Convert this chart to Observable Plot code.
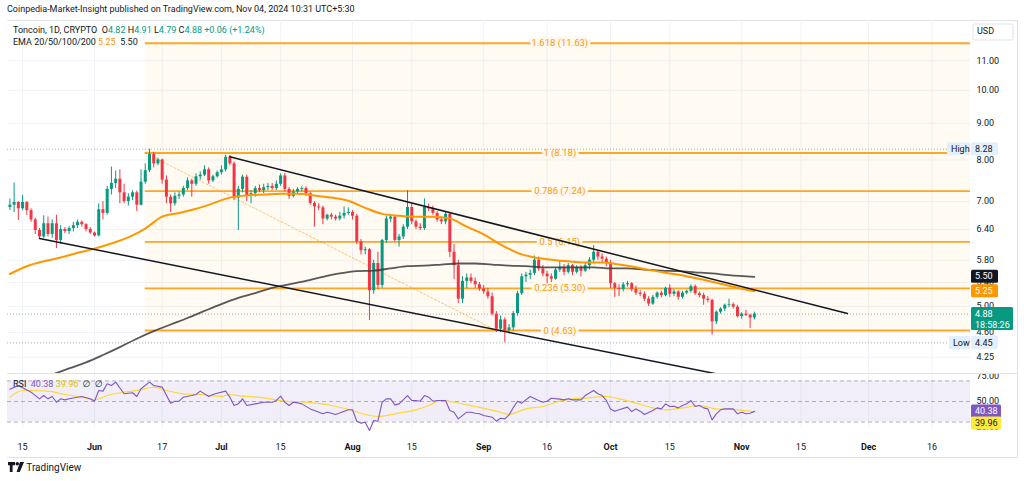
<!DOCTYPE html>
<html><head><meta charset="utf-8">
<script src="https://cdn.jsdelivr.net/npm/d3@7"></script>
<script src="https://cdn.jsdelivr.net/npm/@observablehq/plot@0.6"></script>
<style>
body{margin:0;background:#fff;font-family:Roboto,"DejaVu Sans",sans-serif;color:#131722;}
#wrap{position:relative;width:1024px;height:481px;overflow:hidden;background:#fff;}
.abs{position:absolute;white-space:nowrap;font-size:9px;line-height:11px;}
.g{color:#089981}.o{color:#ff9800}.p{color:#7e57c2}.y{color:#e0c200}
svg{overflow:hidden}
</style></head><body><div id="wrap"></div>
<script>
// ---------------- DATA ----------------
// daily candles [open, high, low, close], May 12 .. Nov 4 2024
const firstCandle = "2024-05-12";
const mayOHLC = [
 [6.87,7.06,6.80,6.92],[6.92,7.43,6.76,6.98],[6.98,7.00,6.59,6.84],[6.84,7.14,6.80,6.98],[6.98,7.00,6.70,6.80],
 [6.80,6.84,6.55,6.60],[6.60,6.64,6.30,6.38],[6.38,6.42,6.20,6.25],[6.25,6.69,6.22,6.52],[6.52,6.66,6.25,6.30],
 [6.30,6.60,6.22,6.52],[6.52,6.70,6.02,6.18],[6.18,6.48,6.10,6.40],[6.40,6.44,6.32,6.36],[6.36,6.46,6.30,6.42],
 [6.42,6.55,6.35,6.48],[6.48,6.60,6.42,6.55],[6.55,6.58,6.45,6.50],[6.50,6.52,6.35,6.40],[6.40,6.44,6.30,6.33]];
const junOHLC = [
 [6.33,6.35,6.25,6.27],[6.27,6.95,6.25,6.82],[6.82,7.00,6.60,6.74],[6.74,7.35,6.70,7.28],[7.28,7.82,7.15,7.42],
 [7.42,7.72,7.30,7.52],[7.52,7.75,6.95,7.20],[7.20,7.40,6.95,7.00],[7.00,7.18,6.90,7.10],[7.10,7.25,7.02,7.20],
 [7.20,7.24,6.78,6.92],[6.92,7.75,6.90,7.45],[7.45,7.90,7.40,7.73],[7.73,8.28,7.68,8.14],[8.14,8.20,7.80,7.90],
 [7.90,8.05,7.85,8.00],[8.00,8.02,7.40,7.50],[7.50,7.60,6.95,7.10],[7.10,7.15,6.76,6.95],[6.95,7.20,6.90,7.12],
 [7.12,7.22,7.05,7.15],[7.15,7.35,7.10,7.30],[7.30,7.55,7.25,7.48],[7.48,7.52,7.10,7.40],[7.40,7.65,7.35,7.58],
 [7.58,7.70,7.50,7.62],[7.62,7.85,7.58,7.75],[7.75,7.80,7.40,7.48],[7.48,7.62,7.44,7.58],[7.58,7.72,7.55,7.68]];
const julOHLC = [
 [7.68,7.85,7.62,7.75],[7.75,8.12,7.70,8.07],[8.07,8.12,7.85,7.90],[7.90,7.95,7.02,7.08],[7.08,7.35,6.38,7.28],
 [7.28,7.62,7.20,7.57],[7.57,7.62,7.00,7.12],[7.12,7.25,6.95,7.18],[7.18,7.35,7.10,7.30],[7.30,7.38,7.20,7.25],
 [7.25,7.40,7.18,7.32],[7.32,7.42,7.25,7.35],[7.35,7.42,7.25,7.30],[7.30,7.48,7.25,7.40],[7.40,7.65,7.35,7.60],
 [7.60,7.66,7.22,7.28],[7.28,7.32,7.05,7.12],[7.12,7.28,7.08,7.22],[7.22,7.32,7.18,7.28],[7.28,7.34,7.22,7.30],
 [7.30,7.34,7.12,7.18],[7.18,7.22,6.92,6.96],[6.96,7.00,6.45,6.88],[6.88,6.95,6.80,6.86],[6.86,6.90,6.50,6.62],
 [6.62,6.72,6.58,6.70],[6.70,6.74,6.60,6.66],[6.66,6.70,6.58,6.62],[6.62,6.76,6.58,6.68],[6.68,6.88,6.62,6.74],
 [6.74,6.86,6.70,6.76]];
const augOHLC = [
 [6.76,6.80,6.60,6.68],[6.68,6.72,6.10,6.15],[6.15,6.20,5.90,5.98],[5.98,6.05,5.90,6.00],[6.00,6.02,4.78,5.26],
 [5.26,5.80,5.20,5.74],[5.74,5.95,5.28,5.35],[5.35,6.20,5.30,6.18],[6.18,6.68,6.12,6.62],[6.62,6.72,6.55,6.66],
 [6.66,6.70,6.15,6.18],[6.18,6.30,6.05,6.25],[6.25,6.50,6.20,6.45],[6.45,7.25,6.40,6.87],[6.87,6.95,6.50,6.56],
 [6.56,6.60,6.40,6.45],[6.45,6.52,6.38,6.42],[6.42,7.06,6.38,6.87],[6.87,6.95,6.78,6.84],[6.84,6.90,6.70,6.74],
 [6.74,6.78,6.55,6.60],[6.60,6.66,6.50,6.56],[6.56,6.78,6.50,6.72],[6.72,6.75,5.85,5.95],[5.95,6.10,5.45,5.70],
 [5.70,5.80,5.05,5.12],[5.12,5.50,5.05,5.42],[5.42,5.55,5.30,5.48],[5.48,5.55,5.38,5.42],[5.42,5.48,5.30,5.36],
 [5.36,5.40,5.25,5.29]];
const sepOHLC = [
 [5.29,5.35,5.20,5.24],[5.24,5.30,5.12,5.16],[5.16,5.22,4.85,4.88],[4.88,4.92,4.60,4.65],[4.65,4.85,4.60,4.79],
 [4.79,4.82,4.45,4.63],[4.63,4.72,4.58,4.67],[4.67,4.92,4.62,4.89],[4.89,5.25,4.85,5.21],[5.21,5.55,5.18,5.50],
 [5.50,5.58,5.40,5.53],[5.53,5.62,5.45,5.56],[5.56,5.88,5.52,5.80],[5.80,5.86,5.60,5.64],[5.64,5.70,5.50,5.55],
 [5.55,5.60,5.38,5.50],[5.50,5.55,5.40,5.46],[5.46,5.66,5.44,5.62],[5.62,5.78,5.58,5.67],[5.67,5.72,5.52,5.58],
 [5.58,5.74,5.55,5.70],[5.70,5.72,5.52,5.58],[5.58,5.70,5.55,5.67],[5.67,5.70,5.50,5.60],[5.60,5.74,5.58,5.70],
 [5.70,5.85,5.62,5.80],[5.80,6.08,5.76,5.95],[5.95,5.98,5.80,5.86],[5.86,5.92,5.76,5.82],[5.82,5.86,5.68,5.75]];
const octOHLC = [
 [5.75,5.80,5.30,5.38],[5.38,5.40,5.15,5.30],[5.30,5.36,5.16,5.28],[5.28,5.40,5.24,5.36],[5.36,5.42,5.32,5.38],
 [5.38,5.40,5.24,5.28],[5.28,5.34,5.18,5.22],[5.22,5.26,5.16,5.20],[5.20,5.24,5.08,5.12],[5.12,5.16,5.00,5.04],
 [5.04,5.18,5.02,5.15],[5.15,5.24,5.12,5.22],[5.22,5.25,5.14,5.18],[5.18,5.32,5.16,5.30],[5.30,5.36,5.15,5.20],
 [5.20,5.28,5.16,5.24],[5.24,5.26,5.10,5.15],[5.15,5.25,5.12,5.22],[5.22,5.27,5.19,5.25],[5.25,5.36,5.22,5.33],
 [5.33,5.36,5.18,5.21],[5.21,5.24,5.14,5.18],[5.18,5.22,5.02,5.12],[5.12,5.16,5.06,5.10],[5.10,5.12,4.56,4.76],
 [4.76,4.93,4.72,4.91],[4.91,4.98,4.88,4.96],[4.96,5.04,4.92,5.02],[5.02,5.12,4.98,5.03],[5.03,5.06,4.96,4.99],
 [4.99,5.02,4.82,4.84]];
const novOHLC = [[4.84,4.90,4.80,4.88],[4.88,4.94,4.84,4.86],[4.86,4.88,4.66,4.82],[4.82,4.91,4.79,4.88]];

// EMA 50 (orange) and EMA 200 (dark)
const ema50 = [
 ["2024-05-12",5.55],["2024-05-16",5.69],["2024-05-20",5.78],["2024-05-24",5.85],["2024-05-28",5.94],["2024-06-01",6.02],
 ["2024-06-05",6.12],["2024-06-09",6.24],["2024-06-13",6.42],["2024-06-17",6.67],["2024-06-21",6.75],["2024-06-25",6.84],
 ["2024-06-29",6.96],["2024-07-03",7.09],["2024-07-07",7.14],["2024-07-11",7.16],["2024-07-15",7.18],["2024-07-19",7.18],
 ["2024-07-23",7.14],["2024-07-27",7.09],["2024-07-31",7.02],["2024-08-04",6.86],["2024-08-08",6.73],["2024-08-12",6.69],
 ["2024-08-16",6.67],["2024-08-20",6.67],["2024-08-24",6.63],["2024-08-28",6.46],["2024-09-01",6.30],["2024-09-05",6.10],
 ["2024-09-09",5.94],["2024-09-13",5.85],["2024-09-17",5.81],["2024-09-21",5.78],["2024-09-25",5.76],["2024-09-29",5.76],
 ["2024-10-03",5.72],["2024-10-07",5.67],["2024-10-11",5.61],["2024-10-15",5.56],["2024-10-19",5.51],["2024-10-23",5.45],
 ["2024-10-27",5.38],["2024-10-31",5.31],["2024-11-04",5.25]];
const ema200 = [
 ["2024-05-22",4.02],["2024-05-26",4.10],["2024-05-30",4.18],["2024-06-03",4.28],["2024-06-07",4.39],["2024-06-11",4.51],
 ["2024-06-15",4.62],["2024-06-19",4.72],["2024-06-23",4.82],["2024-06-27",4.93],["2024-07-01",5.04],["2024-07-05",5.14],
 ["2024-07-09",5.22],["2024-07-13",5.31],["2024-07-17",5.37],["2024-07-21",5.43],["2024-07-25",5.50],["2024-07-29",5.56],
 ["2024-08-02",5.60],["2024-08-06",5.61],["2024-08-10",5.65],["2024-08-14",5.69],["2024-08-18",5.70],["2024-08-22",5.72],
 ["2024-08-26",5.74],["2024-08-30",5.74],["2024-09-03",5.72],["2024-09-07",5.70],["2024-09-11",5.69],["2024-09-15",5.67],
 ["2024-09-19",5.67],["2024-09-23",5.67],["2024-09-27",5.67],["2024-10-01",5.65],["2024-10-05",5.65],["2024-10-09",5.63],
 ["2024-10-13",5.61],["2024-10-17",5.60],["2024-10-21",5.58],["2024-10-25",5.56],["2024-10-29",5.53],["2024-11-04",5.50]];

// Fibonacci retracement
const fibLevels = [0, 0.236, 0.5, 0.786, 1, 1.618];
const fibPrices = [4.63, 5.30, 6.15, 7.24, 8.18, 11.63];
const fibStart = "2024-06-13";
const fibLabelDate = "2024-09-19";
const fibDiagonal = [["2024-06-13", 8.18], ["2024-09-04", 4.63]];

// trend lines (falling channel)
const upperTrend = [["2024-07-03", 8.08], ["2024-11-26", 4.89]];
const lowerTrend = [["2024-05-19", 6.22], ["2024-10-26", 4.03]];

// levels
const highPrice = 8.28, lowPrice = 4.45, lastPrice = 4.88, ema50Last = 5.25, ema200Last = 5.50;

// RSI (14) and its MA
const rsiLine = [
 ["2024-05-12",62],["2024-05-14",65.6],["2024-05-17",59.1],["2024-05-19",52.6],["2024-05-20",55.8],["2024-05-21",52.6],
 ["2024-05-22",54.9],["2024-05-23",49.3],["2024-05-24",52.6],["2024-05-25",51.6],["2024-05-26",52.6],["2024-05-28",54.2],
 ["2024-05-29",54.9],["2024-05-31",52.6],["2024-06-01",50.3],["2024-06-02",60.7],["2024-06-03",60.1],["2024-06-04",67.2],
 ["2024-06-05",65.6],["2024-06-06",68.9],["2024-06-08",57.5],["2024-06-09",58.1],["2024-06-10",58.5],["2024-06-11",54.9],
 ["2024-06-12",62.4],["2024-06-14",68.9],["2024-06-15",65.6],["2024-06-17",64.0],["2024-06-19",48.4],["2024-06-20",50.3],
 ["2024-06-21",50.3],["2024-06-22",54.2],["2024-06-24",55.8],["2024-06-25",56.8],["2024-06-26",60.1],["2024-06-28",54.9],
 ["2024-06-29",56.8],["2024-06-30",58.1],["2024-07-02",60.1],["2024-07-03",54.2],["2024-07-04",46.1],["2024-07-05",47.7],
 ["2024-07-06",52.6],["2024-07-07",46.1],["2024-07-09",47.7],["2024-07-11",49.3],["2024-07-13",49.3],["2024-07-14",51.0],
 ["2024-07-15",55.2],["2024-07-16",49.3],["2024-07-17",46.1],["2024-07-18",49.3],["2024-07-19",48.7],["2024-07-20",47.7],
 ["2024-07-22",42.8],["2024-07-23",41.2],["2024-07-25",38.0],["2024-07-26",39.5],["2024-07-27",38.6],["2024-07-28",37.3],
 ["2024-07-31",41.9],["2024-08-01",41.9],["2024-08-02",30.8],["2024-08-03",28.9],["2024-08-04",29.8],["2024-08-05",21.7],
 ["2024-08-06",31.5],["2024-08-07",30.8],["2024-08-08",49.3],["2024-08-09",52.6],["2024-08-10",52.6],["2024-08-11",46.7],
 ["2024-08-12",47.7],["2024-08-14",55.8],["2024-08-15",51.0],["2024-08-16",51.0],["2024-08-17",50.3],["2024-08-18",55.8],
 ["2024-08-19",54.2],["2024-08-20",50.3],["2024-08-21",51.0],["2024-08-23",51.0],["2024-08-24",41.2],["2024-08-25",39.6],
 ["2024-08-26",33.1],["2024-08-28",39.6],["2024-08-29",39.6],["2024-08-30",38.6],["2024-08-31",38.0],["2024-09-01",36.3],
 ["2024-09-03",34.7],["2024-09-04",30.8],["2024-09-05",33.7],["2024-09-06",33.1],["2024-09-07",37.0],["2024-09-08",44.0],
 ["2024-09-09",50.3],["2024-09-10",48.4],["2024-09-12",54.9],["2024-09-14",51.0],["2024-09-15",49.3],["2024-09-16",50.3],
 ["2024-09-17",53.2],["2024-09-19",52.3],["2024-09-20",51.6],["2024-09-21",52.6],["2024-09-22",51.6],["2024-09-24",51.6],
 ["2024-09-25",55.8],["2024-09-27",60.7],["2024-09-28",57.5],["2024-09-29",55.8],["2024-09-30",51.0],["2024-10-01",42.8],
 ["2024-10-02",40.6],["2024-10-03",41.9],["2024-10-05",44.5],["2024-10-06",40.2],["2024-10-07",42.8],["2024-10-08",40.6],
 ["2024-10-09",37.3],["2024-10-11",41.2],["2024-10-12",43.8],["2024-10-13",42.8],["2024-10-14",47.7],["2024-10-15",45.1],
 ["2024-10-16",45.4],["2024-10-17",43.8],["2024-10-18",46.1],["2024-10-19",47.7],["2024-10-20",51.0],["2024-10-21",45.1],
 ["2024-10-22",46.1],["2024-10-23",43.8],["2024-10-24",42.8],["2024-10-25",32.1],["2024-10-26",38.0],["2024-10-27",41.9],
 ["2024-10-28",42.8],["2024-10-30",42.8],["2024-10-31",38.0],["2024-11-01",39.6],["2024-11-02",38.0],["2024-11-03",38.6],
 ["2024-11-04",40.38]];
const rsiMA = [
 ["2024-05-12",54.2],["2024-05-15",60.7],["2024-05-17",60.7],["2024-05-21",60.1],["2024-05-25",56.8],["2024-05-29",54.2],
 ["2024-06-01",51.6],["2024-06-04",55.8],["2024-06-08",59.1],["2024-06-12",61.4],["2024-06-15",64.0],["2024-06-18",60.7],
 ["2024-06-22",57.5],["2024-06-26",56.8],["2024-07-01",54.9],["2024-07-03",56.8],["2024-07-05",55.8],["2024-07-11",53.6],
 ["2024-07-16",50.3],["2024-07-21",49.3],["2024-07-27",46.1],["2024-08-01",41.2],["2024-08-04",37.3],["2024-08-07",35.4],
 ["2024-08-11",38.0],["2024-08-16",41.9],["2024-08-19",46.1],["2024-08-22",51.0],["2024-08-25",49.3],["2024-08-30",45.1],
 ["2024-09-04",40.6],["2024-09-07",37.5],["2024-09-11",42.8],["2024-09-15",45.1],["2024-09-19",50.3],["2024-09-22",52.6],
 ["2024-09-26",53.6],["2024-09-30",54.9],["2024-10-03",52.6],["2024-10-07",48.4],["2024-10-11",43.8],["2024-10-14",41.9],
 ["2024-10-18",43.8],["2024-10-22",46.1],["2024-10-26",42.8],["2024-10-31",41.9],["2024-11-04",39.96]];
const rsiLast = 40.38, rsiMALast = 39.96;

// axes
const priceTicks = [4.25, 4.6, 5, 5.4, 5.8, 6.4, 7, 8, 9, 10, 11];
const rsiTicks = [25, 50, 75];
const rsiBands = [30, 50, 70];
const monthTicks = ["2024-06-01","2024-07-01","2024-08-01","2024-09-01","2024-10-01","2024-11-01","2024-12-01"];
const dayTicks = ["2024-05-15","2024-06-17","2024-07-15","2024-08-15","2024-09-16","2024-10-15","2024-11-15","2024-12-16"];
const xStart = "2024-05-11T10:24Z", xEnd = "2024-12-25T02:10Z";

// ---------------- BUILD ----------------
const D = s => new Date(s);
const base = D(firstCandle);
const allOHLC = [...mayOHLC, ...junOHLC, ...julOHLC, ...augOHLC, ...sepOHLC, ...octOHLC, ...novOHLC];
const candles = allOHLC.map((r, i) => ({date: new Date(Date.UTC(2024, base.getUTCMonth(), base.getUTCDate() + i)), open: r[0], high: r[1], low: r[2], close: r[3]}));
const pts = a => a.map(([d, v]) => ({date: D(d), v}));
const fibs = fibLevels.map((l, i) => ({level: l, price: fibPrices[i]}));
const xDomain = [D(xStart), D(xEnd)];
const allTicks = [...monthTicks, ...dayTicks].map(D);
const UP = "#089981", DOWN = "#f23645", ORANGE = "#ff9800", GRID = "#f0f3fa";
const col = d => d.close >= d.open ? UP : DOWN;
const W = 1024, mL = 7, mR = 54;
const FONT = "Roboto, 'DejaVu Sans', sans-serif";

const price = Plot.plot({
  width: W, height: 354, marginTop: 2, marginBottom: 1, marginLeft: mL, marginRight: mR,
  style: {background: "transparent", fontFamily: FONT, fontSize: "9px", color: "#131722"},
  x: {type: "utc", domain: xDomain, axis: null},
  y: {type: "log", domain: [4.034, 12.43], axis: null},
  marks: [
    Plot.ruleX(allTicks, {stroke: GRID}),
    Plot.ruleY(priceTicks, {stroke: GRID}),
    Plot.rect([0], {x1: () => D(fibStart), x2: () => xDomain[1], y1: () => fibPrices[0], y2: () => fibPrices[5], fill: ORANGE, fillOpacity: 0.05}),
    Plot.ruleY(fibs, {y: "price", x1: () => D(fibStart), x2: () => xDomain[1], stroke: ORANGE, strokeWidth: 1.8, strokeOpacity: 0.85}),
    Plot.text(fibs, {x: () => D(fibLabelDate), y: "price", text: d => `${d.level} (${d.price.toFixed(2)})`, fill: ORANGE, stroke: "#fff9f2", strokeWidth: 6, fontSize: 9.5}),
    Plot.line(pts(fibDiagonal), {x: "date", y: "v", stroke: ORANGE, strokeOpacity: 0.55, strokeWidth: 1, strokeDasharray: "2,2"}),
    Plot.ruleY([highPrice, lowPrice, lastPrice], {stroke: "#9598a1", strokeDasharray: "1,2", strokeOpacity: 0.8}),
    Plot.ruleX(candles, {x: "date", y1: "low", y2: "high", stroke: col, strokeWidth: 1}),
    Plot.ruleX(candles, {x: "date", y1: "open", y2: "close", stroke: col, strokeWidth: 3}),
    Plot.line(pts(ema200), {x: "date", y: "v", stroke: "#3b3b3b", strokeOpacity: 0.85, strokeWidth: 1.8, curve: "monotone-x", clip: true}),
    Plot.line(pts(ema50), {x: "date", y: "v", stroke: ORANGE, strokeWidth: 2, curve: "monotone-x", clip: true}),
    Plot.line(pts(upperTrend), {x: "date", y: "v", stroke: "#131722", strokeWidth: 1.5, clip: true}),
    Plot.line(pts(lowerTrend), {x: "date", y: "v", stroke: "#131722", strokeWidth: 1.5, clip: true}),
    Plot.axisY({anchor: "right", ticks: priceTicks, tickSize: 0, tickPadding: 6, tickFormat: d => d.toFixed(2), fontSize: 9, fill: "#131722", label: null})
  ]
});

const rsi = Plot.plot({
  width: W, height: 84, marginTop: 0, marginBottom: 30, marginLeft: mL, marginRight: mR,
  style: {background: "transparent", fontFamily: FONT, fontSize: "9px", color: "#131722"},
  x: {type: "utc", domain: xDomain, axis: null},
  y: {domain: [23.7, 76.3], axis: null},
  marks: [
    Plot.ruleX(allTicks, {y1: 23.7, y2: 76.3, stroke: GRID}),
    Plot.rect([0], {x1: () => xDomain[0], x2: () => xDomain[1], y1: () => rsiBands[0], y2: () => rsiBands[2], fill: "#7e57c2", fillOpacity: 0.1}),
    Plot.ruleY(rsiBands, {stroke: "#787b86", strokeOpacity: 0.55, strokeDasharray: "4,3"}),
    Plot.line(pts(rsiMA), {x: "date", y: "v", stroke: "#fdd835", strokeWidth: 1.2, curve: "monotone-x"}),
    Plot.line(pts(rsiLine), {x: "date", y: "v", stroke: "#7e57c2", strokeWidth: 1.1}),
    Plot.axisY({anchor: "right", ticks: rsiTicks, tickSize: 0, tickPadding: 6, tickFormat: d => d.toFixed(2), fontSize: 9, fill: "#131722", label: null}),
    Plot.axisX({ticks: monthTicks.map(D), tickFormat: d3.utcFormat("%b"), tickSize: 0, tickPadding: 15, fontWeight: "bold", fontSize: 9, fill: "#131722", label: null}),
    Plot.axisX({ticks: dayTicks.map(D), tickFormat: d3.utcFormat("%-d"), tickSize: 0, tickPadding: 15, fontSize: 9, fill: "#131722", label: null})
  ]
});

// axis tags
function tag(svg, x0, yc, w, h, bg, lines, fg, stroke) {
  const g = d3.select(svg).append("g").attr("font-family", FONT).attr("font-size", 9).attr("text-anchor", "start");
  g.append("rect").attr("x", x0).attr("y", yc - 6.5).attr("width", w).attr("height", h).attr("rx", 1.5)
    .attr("fill", bg).attr("stroke", stroke || "none");
  lines.forEach((t, i) => g.append("text").attr("x", x0 + 4).attr("y", yc + i * 11).attr("dy", "0.35em")
    .attr("text-anchor", "start").attr("fill", fg).text(t));
}
const py = price.scale("y"), pxr = price.scale("x").range[1];
tag(price, pxr - 23, py.apply(highPrice), 23, 13, "#e3effd", ["High"], "#131722");
tag(price, pxr + 1, py.apply(highPrice), 27, 13, "#e3effd", [highPrice.toFixed(2)], "#131722");
tag(price, pxr - 21, py.apply(lowPrice), 21, 13, "#e3effd", ["Low"], "#131722");
tag(price, pxr + 1, py.apply(lowPrice), 27, 13, "#e3effd", [lowPrice.toFixed(2)], "#131722");
tag(price, pxr + 1, py.apply(ema200Last), 27, 13, "#131722", [ema200Last.toFixed(2)], "#fff");
tag(price, pxr + 1, py.apply(ema50Last), 27, 13, ORANGE, [ema50Last.toFixed(2)], "#fff");
tag(price, pxr + 1, py.apply(lastPrice), 42, 23, UP, [lastPrice.toFixed(2), "18:58:26"], "#fff");
tag(price, pxr + 3, 10.5, 40, 16, "#fff", ["USD"], "#131722", "#e0e3eb");
const ry = rsi.scale("y");
tag(rsi, pxr + 1, ry.apply(rsiLast), 30, 13, "#7e57c2", [rsiLast.toFixed(2)], "#fff");
tag(rsi, pxr + 1, ry.apply(rsiLast) + 12, 30, 13, "#ffeb3b", [rsiMALast.toFixed(2)], "#131722");

// ---------------- LAYOUT ----------------
const wrap = document.getElementById("wrap");
const place = (el, top) => { el.style.position = "absolute"; el.style.left = "0px"; el.style.top = top + "px"; wrap.appendChild(el); };
place(price, 20);
place(rsi, 374);
const frame = document.createElement("div");
frame.style.cssText = "position:absolute;left:7px;top:20px;width:1010px;height:436px;border:1px solid #e0e3eb;border-left:none;pointer-events:none";
wrap.appendChild(frame);
const sep = document.createElement("div");
sep.style.cssText = "position:absolute;left:7px;top:373px;width:1010px;height:1px;background:#e0e3eb";
wrap.appendChild(sep);
const html = (s, l, t, extra) => { const d = document.createElement("div"); d.className = "abs"; d.style.left = l + "px"; d.style.top = t + "px"; if (extra) d.style.cssText += extra; d.innerHTML = s; wrap.appendChild(d); };
html("Coinpedia-Market-Insight published on TradingView.com, Nov 04, 2024 10:31 UTC+5:30", 7, 4);
html(`Toncoin, 1D, CRYPTO&nbsp; O<span class="g">${novOHLC[3][0].toFixed(2)}</span> H<span class="g">${novOHLC[3][1].toFixed(2)}</span> L<span class="g">${novOHLC[3][2].toFixed(2)}</span> C<span class="g">${novOHLC[3][3].toFixed(2)}</span> <span class="g">+0.06 (+1.24%)</span>`, 13, 25);
html(`EMA 20/50/100/200 <span class="o">${ema50Last.toFixed(2)}</span>&nbsp; ${ema200Last.toFixed(2)}`, 13, 37);
html(`RSI&nbsp; <span class="p">${rsiLast.toFixed(2)}</span> <span class="y">${rsiMALast.toFixed(2)}</span>&nbsp; ∅&nbsp; ∅`, 13, 379);
html(`<svg width="16" height="10" style="vertical-align:-1px"><path d="M0 0h7v3.2H4.6V10H1.8V3.2H0z" fill="#131722"/><circle cx="9.3" cy="1.8" r="1.8" fill="#131722"/><path d="M12 0h4l-4.2 10H8.6z" fill="#131722"/></svg> TradingView`, 8, 462, "font-size:10px;line-height:12px");
</script></body></html>
